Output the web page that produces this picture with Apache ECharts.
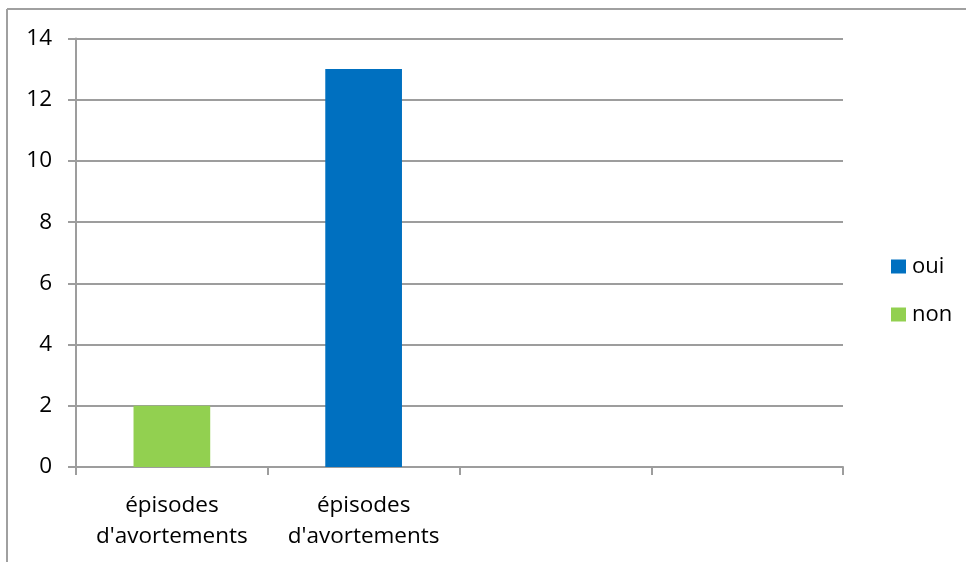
<!DOCTYPE html>
<html>
<head>
<meta charset="utf-8">
<style>
  html, body { margin: 0; padding: 0; background: #fff; }
  #chart { width: 966px; height: 562px; }
</style>
<script src="https://cdn.jsdelivr.net/npm/echarts@6/dist/echarts.min.js"></script>
</head>
<body>
<div id="chart"></div>
<script>
// Categories along the x axis (the last two slots are empty)
const categories = ["épisodes\nd'avortements", "épisodes\nd'avortements", "", ""];
// Series values per category
const ouiValues = [null, 13, null, null];
const nonValues = [2, null, null, null];
// Value axis ticks
const yTicks = [0, 2, 4, 6, 8, 10, 12, 14];

const FONT = "Open Sans";
const GRID_COLOR = "#9d9d9d";
const TEXT_COLOR = "#000";

const chart = echarts.init(document.getElementById('chart'), null, { renderer: 'canvas' });

chart.setOption({
  animation: false,
  backgroundColor: '#fff',
  textStyle: { fontFamily: FONT },
  graphic: [
    { type: 'line', shape: { x1: 7, y1: 9, x2: 966, y2: 9 }, style: { stroke: '#a0a0a0', lineWidth: 2 } },
    { type: 'line', shape: { x1: 7, y1: 9, x2: 7, y2: 562 }, style: { stroke: '#a0a0a0', lineWidth: 2 } }
  ],
  grid: { left: 76, right: 123, top: 38.5, bottom: 95, containLabel: false },
  legend: {
    orient: 'vertical',
    left: 886,
    top: 250,
    itemWidth: 15,
    itemHeight: 14,
    itemGap: 25,
    icon: 'rect',
    data: ['oui', 'non'],
    textStyle: { fontFamily: FONT, fontSize: 22, color: TEXT_COLOR, lineHeight: 23, padding: [0, 0, 0, 1] }
  },
  xAxis: {
    type: 'category',
    data: categories,
    boundaryGap: true,
    axisLine: { show: true, lineStyle: { color: GRID_COLOR, width: 2 } },
    axisTick: { show: true, alignWithLabel: false, length: 8, lineStyle: { color: GRID_COLOR, width: 2 } },
    axisLabel: {
      interval: 0,
      margin: 23,
      fontFamily: FONT,
      fontSize: 22.5,
      lineHeight: 31,
      color: TEXT_COLOR,
      align: 'center'
    },
    splitLine: { show: false }
  },
  yAxis: {
    type: 'value',
    min: yTicks[0],
    max: yTicks[yTicks.length - 1],
    interval: 2,
    axisLine: { show: true, lineStyle: { color: GRID_COLOR, width: 2 } },
    axisTick: { show: true, length: 8, lineStyle: { color: GRID_COLOR, width: 2 } },
    axisLabel: { margin: 24, fontFamily: FONT, fontSize: 22.5, color: TEXT_COLOR },
    splitLine: { show: true, lineStyle: { color: GRID_COLOR, width: 2 } }
  },
  series: [
    {
      name: 'oui',
      type: 'bar',
      stack: 'total',
      data: ouiValues,
      barWidth: '40%',
      itemStyle: { color: '#0070C0' }
    },
    {
      name: 'non',
      type: 'bar',
      stack: 'total',
      data: nonValues,
      barWidth: '40%',
      itemStyle: { color: '#92D050' }
    }
  ]
});
</script>
</body>
</html>
